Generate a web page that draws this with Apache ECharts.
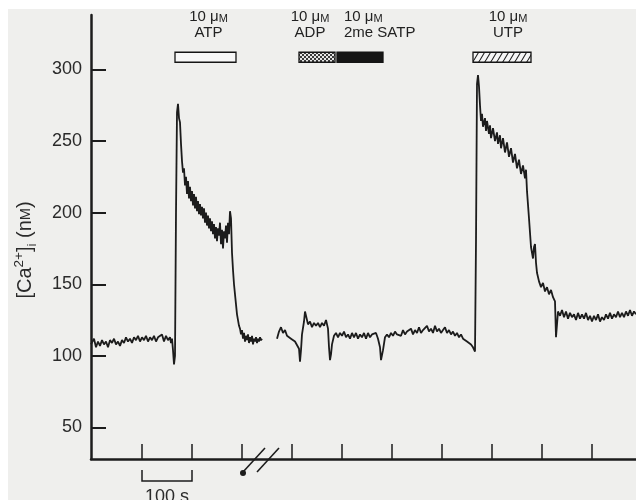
<!DOCTYPE html>
<html><head><meta charset="utf-8">
<script src="https://cdn.jsdelivr.net/npm/echarts@6/dist/echarts.min.js"></script>
<style>html,body{margin:0;padding:0;background:#fff}#c{width:636px;height:500px}</style>
</head><body><div id="c"></div>
<script>
// ---------- data ----------
const yTickValues = [50, 100, 150, 200, 250, 300];
const xTickValues = [0, 100, 200, 300, 400, 500, 600, 700, 800, 900];
// time (s), [Ca2+]i (nM) before the axis break
const segmentBeforeBreak = [
[-102,108],[-96,112],[-92,106],[-88,110],[-84,107],[-80,111],[-76,108],[-72,110],[-68,106],[-64,111],
[-60,109],[-56,112],[-52,108],[-48,110],[-44,107],[-40,111],[-36,109],[-32,113],[-28,110],[-24,112],
[-20,109],[-16,113],[-12,111],[-8,114],[-4,110],[0,113],[4,111],[8,114],[12,110],[16,113],
[20,111],[24,114],[28,110],[32,113],[36,112],[40,115],[44,110],[48,114],[52,111],[56,113],
[58,109],[60,112],[62,104],[64,94],[66,100],[68,200],[70,270],[72,276],[74,266],[76,263],
[78,248],[80,236],[82,228],[84,231],[86,219],[88,225],[90,213],[92,222],[94,210],[96,218],
[98,208],[100,215],[102,205],[104,213],[106,203],[108,211],[110,201],[112,208],[114,199],[116,206],
[118,198],[120,204],[122,196],[124,203],[126,193],[128,200],[130,191],[132,198],[134,189],[136,196],
[138,187],[140,194],[142,185],[144,192],[146,182],[148,190],[150,180],[152,189],[154,184],[156,193],
[158,178],[160,188],[162,175],[164,187],[166,182],[168,191],[170,179],[172,193],[174,185],[176,201],
[178,196],[180,172],[182,160],[184,150],[186,143],[188,136],[190,129],[192,125],[194,121],[196,119],
[198,115],[200,118],[202,112],[204,116],[206,110],[208,114],[210,111],[212,115],[214,109],[216,113],
[218,110],[220,114],[222,108],[224,112],[226,110],[228,113],[230,109],[232,112],[234,110],[236,113],
[238,111],[240,112]
];
// time (s), [Ca2+]i (nM) after the axis break
const segmentAfterBreak = [
[270,112],[274,117],[278,120],[282,116],[286,118],[290,114],[294,115],[298,112],[302,113],[306,110],
[310,111],[314,105],[316,96],[318,104],[320,115],[324,124],[326,131],[328,128],[332,122],[336,124],
[340,120],[344,123],[348,121],[352,123],[356,120],[360,123],[364,121],[368,125],[372,119],[374,106],
[376,97],[378,101],[380,108],[384,114],[388,116],[392,113],[396,116],[400,114],[404,117],[408,113],
[412,115],[416,112],[420,116],[424,113],[428,116],[432,112],[436,115],[440,113],[444,116],[448,112],
[452,116],[456,113],[460,115],[464,114],[468,116],[472,112],[476,106],[478,97],[482,104],[486,113],
[490,115],[494,113],[498,116],[502,114],[506,117],[510,115],[514,116],[518,114],[522,118],[526,115],
[530,117],[534,116],[538,119],[542,115],[546,118],[550,116],[554,120],[558,116],[562,118],[566,117],
[570,121],[574,117],[578,119],[582,116],[586,121],[590,117],[594,119],[598,116],[602,118],[606,120],
[610,116],[614,118],[618,115],[622,117],[626,114],[630,116],[634,113],[638,115],[642,112],[646,113],
[650,110],[654,111],[658,108],[662,106],[666,103],[668,180],[670,290],[672,296],[674,288],[676,275],
[678,264],[680,269],[682,260],[686,266],[688,257],[690,264],[694,255],[696,261],[698,252],[702,259],
[706,250],[710,256],[712,248],[716,254],[718,245],[722,252],[726,242],[730,249],[734,239],[738,245],
[742,235],[746,241],[750,231],[754,237],[758,227],[762,233],[766,224],[768,230],[770,215],[774,196],
[778,176],[782,168],[784,176],[786,178],[788,165],[790,158],[794,152],[798,148],[802,151],[806,145],
[810,148],[814,143],[818,146],[822,141],[826,138],[828,113],[830,122],[832,131],[836,128],[840,132],
[844,127],[848,131],[852,126],[856,130],[860,127],[864,129],[868,125],[872,130],[876,126],[880,129],
[884,126],[888,130],[892,125],[896,128],[900,124],[904,128],[908,125],[912,129],[916,124],[920,127],
[924,125],[928,129],[932,126],[936,130],[940,126],[944,129],[948,127],[952,131],[956,127],[960,130],
[964,127],[968,131],[972,128],[976,132],[980,128],[984,131],[988,129]
];
const drugNames = ['ATP', 'ADP', '2me SATP', 'UTP'];
const drugStart = [66, 314, 390, 662];
const drugEnd = [188, 386, 482, 778];
const drugConc = '10 μ';
const scaleBarSpan = [0, 100];
const scaleBarLabel = '100 s';
const axisBreakTime = 238;

// ---------- styles ----------
const FONT = '"Liberation Sans", Arial, Helvetica, sans-serif';
const INK = '#1c1c1c';
const labelAlign = ['center', 'center', 'left', 'center'];
const labelDx = [3, -7, 7, 6];
const BAR_TOP = 312, BAR_BOTTOM = 305;

function makePattern(kind) {
  const c = document.createElement('canvas');
  if (kind === 'check') {
    c.width = 4; c.height = 4;
    const g = c.getContext('2d');
    g.fillStyle = '#e6e6e6'; g.fillRect(0, 0, 4, 4);
    g.fillStyle = '#3a3a3a'; g.fillRect(0, 0, 2, 2); g.fillRect(2, 2, 2, 2);
  } else {
    c.width = 6; c.height = 10;
    const g = c.getContext('2d');
    g.fillStyle = '#f6f6f6'; g.fillRect(0, 0, 6, 10);
    g.strokeStyle = '#222'; g.lineWidth = 1.1;
    g.beginPath(); g.moveTo(0, 10); g.lineTo(6, 0);
    g.moveTo(-6, 10); g.lineTo(0, 0); g.moveTo(6, 10); g.lineTo(12, 0); g.stroke();
  }
  return { image: c, repeat: 'repeat' };
}
const drugFills = ['#f7f7f7', makePattern('check'), '#161616', makePattern('hatch')];

const chart = echarts.init(document.getElementById('c'), null, { renderer: 'canvas' });

const option = {
  animation: false,
  backgroundColor: '#efefed',
  grid: { left: 91, right: 0, top: 15, bottom: 41, containLabel: false, outerBoundsMode: 'none' },
  xAxis: {
    type: 'value', min: -102, max: 988,
    axisLine: { show: true, onZero: false, lineStyle: { color: INK, width: 2.5 } },
    axisTick: { show: true, inside: true, length: 15, customValues: xTickValues, lineStyle: { color: INK, width: 1.5 } },
    axisLabel: { show: false },
    splitLine: { show: false }
  },
  yAxis: {
    type: 'value', min: 28, max: 338,
    axisLine: { show: true, onZero: false, lineStyle: { color: INK, width: 2.5 } },
    axisTick: { show: true, inside: true, length: 15, customValues: yTickValues, lineStyle: { color: INK, width: 2 } },
    axisLabel: { show: true, customValues: yTickValues, fontFamily: FONT, fontSize: 18, color: '#2a2a2a', margin: 9 },
    splitLine: { show: false }
  },
  series: [
    {
      type: 'line', name: 'trace',
      data: segmentBeforeBreak.concat([[255, null]], segmentAfterBreak),
      showSymbol: false, symbol: 'none', connectNulls: false, clip: true,
      lineStyle: { color: INK, width: 1.8 }
    },
    {
      type: 'custom', name: 'drugs', clip: false,
      data: drugNames.map((n, i) => [drugStart[i], drugEnd[i], i]),
      encode: { x: [0, 1] },
      renderItem: function (params, api) {
        const i = api.value(2);
        const p0 = api.coord([api.value(0), BAR_TOP]);
        const p1 = api.coord([api.value(1), BAR_BOTTOM]);
        const tx = labelAlign[i] === 'left' ? p0[0] + labelDx[i] : (p0[0] + p1[0]) / 2 + labelDx[i];
        return {
          type: 'group',
          children: [
            { type: 'rect', shape: { x: p0[0], y: p0[1], width: p1[0] - p0[0], height: p1[1] - p0[1] },
              style: { fill: drugFills[i], stroke: '#151515', lineWidth: 1.3 } },
            { type: 'text', style: {
                text: '{a|' + drugConc + '}{b|M}', x: tx, y: p0[1] - 36, align: labelAlign[i], verticalAlign: 'middle',
                rich: { a: { fontFamily: FONT, fontSize: 15, fill: '#222', lineHeight: 17, verticalAlign: 'bottom' },
                        b: { fontFamily: FONT, fontSize: 11, fill: '#222', lineHeight: 17, verticalAlign: 'bottom' } } } },
            { type: 'text', style: {
                text: drugNames[i], x: tx, y: p0[1] - 19, align: labelAlign[i], verticalAlign: 'middle',
                font: '15px ' + FONT, fill: '#222' } }
          ]
        };
      }
    }
  ]
};
chart.setOption(option);

// decorations positioned through the chart's own scales
const axisY = chart.convertToPixel({ gridIndex: 0 }, [0, 28])[1];
const sb0 = chart.convertToPixel({ gridIndex: 0 }, [scaleBarSpan[0], 28])[0];
const sb1 = chart.convertToPixel({ gridIndex: 0 }, [scaleBarSpan[1], 28])[0];
const bx = chart.convertToPixel({ gridIndex: 0 }, [axisBreakTime, 28])[0];
const slash = (cx) => ({ type: 'line', z: 100, shape: { x1: cx - 11, y1: axisY + 13, x2: cx + 11, y2: axisY - 11 },
  style: { stroke: INK, lineWidth: 1.6 } });

chart.setOption({
  graphic: [
    { type: 'rect', z: 100, shape: { x: 0, y: 0, width: 636, height: 9 }, style: { fill: '#ffffff' } },
    { type: 'rect', z: 100, shape: { x: 0, y: 0, width: 8, height: 500 }, style: { fill: '#ffffff' } },
    { type: 'text', z: 100, x: 25, y: 250, rotation: Math.PI / 2,
      style: { text: '{n|[Ca}{sup|2+}{n|]}{sub|i}{n| (n}{sc|M}{n|)}', align: 'center', verticalAlign: 'middle',
        rich: {
          n: { fontFamily: FONT, fontSize: 20, fill: '#2a2a2a', lineHeight: 28, verticalAlign: 'middle' },
          sup: { fontFamily: FONT, fontSize: 13.5, fill: '#2a2a2a', lineHeight: 28, verticalAlign: 'top', padding: [1, 0, 0, 0] },
          sub: { fontFamily: FONT, fontSize: 13.5, fill: '#2a2a2a', lineHeight: 28, verticalAlign: 'bottom', padding: [0, 0, 0, 0] },
          sc: { fontFamily: FONT, fontSize: 14.5, fill: '#2a2a2a', lineHeight: 28, verticalAlign: 'middle', padding: [2, 0, 0, 0] }
        } } },
    slash(bx - 7), slash(bx + 7),
    { type: 'circle', z: 100, shape: { cx: bx - 18, cy: axisY + 14, r: 3 }, style: { fill: INK } },
    { type: 'polyline', z: 100, shape: { points: [[sb0, axisY + 11], [sb0, axisY + 22], [sb1, axisY + 22], [sb1, axisY + 11]] },
      style: { stroke: INK, lineWidth: 1.5, fill: null } },
    { type: 'text', z: 100, x: (sb0 + sb1) / 2, y: axisY + 29,
      style: { text: scaleBarLabel, align: 'center', verticalAlign: 'top', font: '18px ' + FONT, fill: '#2a2a2a' } }
  ]
});
</script>
</body></html>
